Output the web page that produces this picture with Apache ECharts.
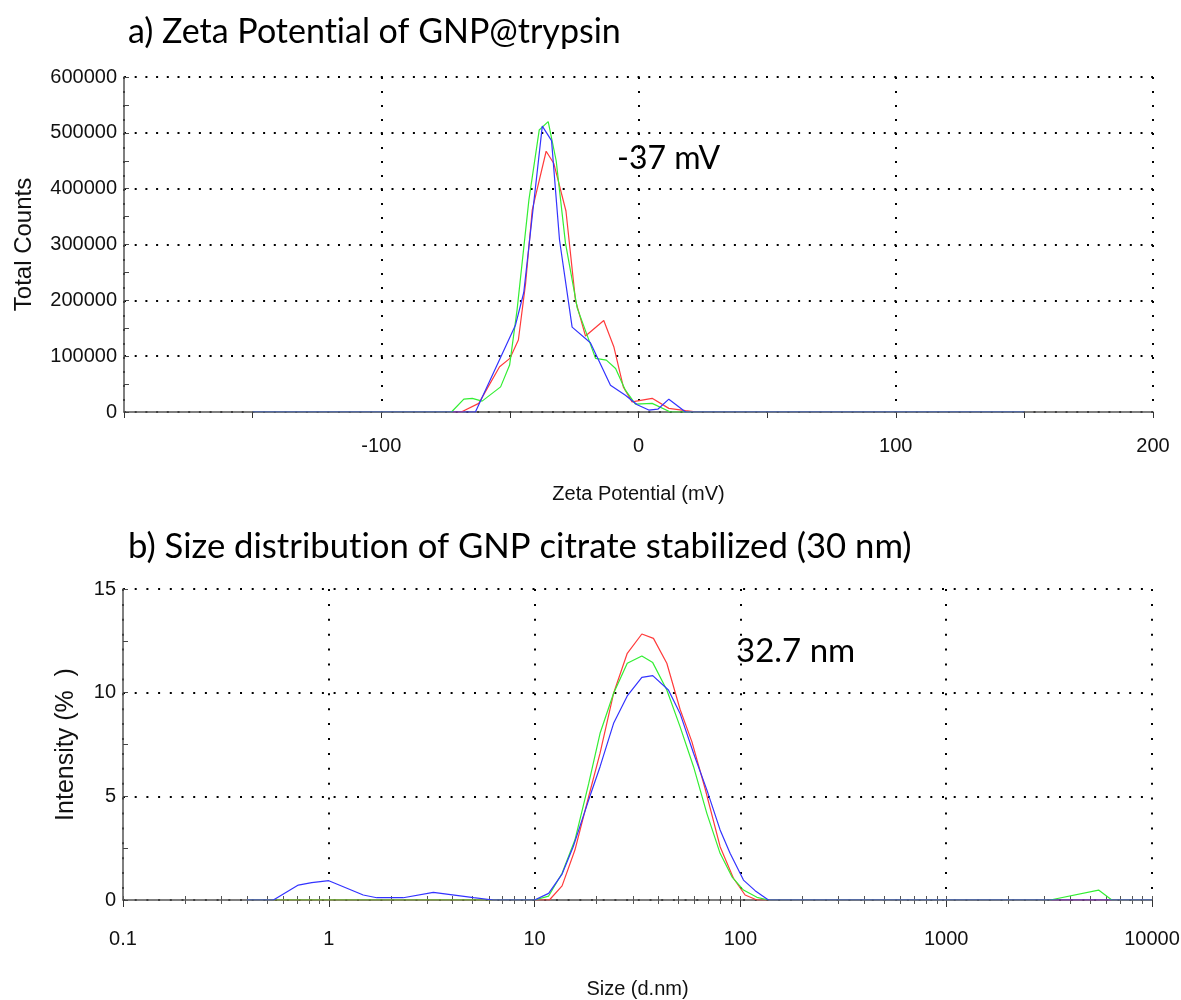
<!DOCTYPE html>
<html>
<head>
<meta charset="utf-8">
<title>Zeta potential and size distribution</title>
<script src="https://cdn.jsdelivr.net/npm/echarts@6/dist/echarts.min.js"></script>
<style>
  html, body { margin: 0; padding: 0; background: #fff; }
  #chart { width: 1181px; height: 1000px; }
</style>
</head>
<body>
<div id="chart"></div>
<script>
// ---- a) zeta potential runs: [mV, total counts] ----
const zetaRed = [[-150,0],[-68.9,0],[-62.1,15500],[-54,81000],[-50,96000],[-46.7,129000],[-43.9,230000],[-41.3,362000],[-35.9,467000],[-32.9,445000],[-28.2,360000],[-24.5,200000],[-20.6,136000],[-13.5,164000],[-9.6,117000],[-5.9,45000],[-2.5,18000],[5.3,24500],[11.8,6500],[18.3,2500],[22.8,0],[150,0]];
const zetaGreen = [[-150,0],[-72.7,0],[-67.9,23000],[-64.6,24500],[-60.8,19500],[-53.6,45000],[-50.1,84000],[-47.2,183000],[-42.6,380000],[-38.6,505000],[-35.1,520000],[-32.0,450000],[-28.4,303000],[-23.8,186000],[-16.7,96000],[-12.5,93000],[-8.9,78000],[-5.1,39000],[-1.2,14000],[5.3,15500],[12.4,0],[150,0]];
const zetaBlue = [[-150,0],[-63.4,0],[-47.8,156000],[-44.6,214000],[-37.4,512000],[-33.8,486000],[-30.7,308000],[-25.8,152000],[-18.7,124000],[-10.9,48000],[-5.1,30000],[-0.5,13000],[4.0,3500],[7.5,5000],[11.8,23000],[18.3,0],[150,0]];

// ---- b) size distribution runs: [size d.nm, intensity %] ----
const sizeRed = [[0.4,0],[11.8,0],[13.6,0.68],[15.7,2.41],[18.3,4.98],[20.8,7.08],[24.2,9.97],[28.2,11.9],[33.2,12.83],[37.8,12.62],[43.9,11.42],[50.9,9.2],[58.1,7.64],[67.3,5.39],[79.7,2.57],[92.5,1.05],[105.4,0.24],[120.3,0],[10000,0]];
const sizeGreen = [[0.4,0],[10,0],[11.7,0.19],[13.6,1.29],[15.7,2.89],[18.3,5.6],[20.8,8.04],[24.2,9.97],[28.2,11.42],[33.2,11.77],[37.5,11.45],[43.9,10.13],[50.9,8.36],[59.2,6.43],[68.7,4.18],[79.7,2.25],[91,1.12],[103.5,0.48],[120.3,0.13],[136.8,0],[3200,0],[5500,0.48],[6380,0],[10000,0]];
const sizeBlue = [[0.4,0],[0.538,0],[0.711,0.72],[0.826,0.84],[1.0,0.93],[1.47,0.24],[1.71,0.11],[2.3,0.11],[3.22,0.37],[5.05,0.11],[6.3,0],[10,0],[11.7,0.32],[13.6,1.25],[15.4,2.57],[18.3,4.82],[20.8,6.43],[24.2,8.52],[28.2,9.84],[33.2,10.74],[37.5,10.82],[44.7,10.13],[50.9,9.0],[59.2,7.08],[68.7,5.31],[79.7,3.38],[89.1,2.25],[103.5,0.96],[117.9,0.45],[136.8,0],[10000,0]];

// ---- text: titles are split between "t" and "i" into two rich-text runs so the font does not join them ----
const titleA = ['a) Zeta Potent', 'ial of GNP@trypsin'];
const titleB = ['b) Size distribut', 'ion of GNP citrate stabilized (30 nm)'];
const noteA = '-37 mV';
const noteB = '32.7 nm';

// log-axis minor tick positions (2..9 in every decade), in log10 space
const decades = [0.1, 1, 10, 100, 1000];
const minorLogTicks = [];
decades.forEach(d => { for (let k = 2; k <= 9; k++) minorLogTicks.push(Math.log10(k * d)); });
const majorLogTicks = [-1, 0, 1, 2, 3, 4];

const TICK_FONT = '"Liberation Sans", Arial, sans-serif';
const NAME_FONT = '"Liberation Sans", Arial, sans-serif';
const TITLE_FONT = 'Lato, "Open Sans", sans-serif';
const AXIS_GRAY = '#555';

const colors = { red: '#ff3b3b', green: '#33ee33', blue: '#3333ff' };

function dotted(period) {
  return { show: true, lineStyle: { color: '#000', width: 2, type: [2, period - 2] } };
}
function plain(v) { return String(+(+v).toPrecision(10)); }
function line(data, color, xi, yi) {
  return {
    type: 'line', data, xAxisIndex: xi, yAxisIndex: yi,
    showSymbol: false, symbol: 'none', silent: true,
    lineStyle: { color, width: 1.2 }, z: 3
  };
}
function titleText(parts, size, left, top) {
  const font = size + 'px ' + TITLE_FONT;
  return {
    type: 'text', left, top,
    style: {
      text: '{p|' + parts[0] + '}{p|' + parts[1] + '}',
      font, fill: '#000',
      rich: { p: { font, fill: '#000' } }
    }
  };
}

const tickLabel = { color: '#111', fontFamily: TICK_FONT, fontSize: 20 };
const axisName = { color: '#111', fontFamily: NAME_FONT, fontSize: 20 };

const option = {
  animation: false,
  backgroundColor: '#fff',
  grid: [
    { left: 124, right: 28, top: 77, height: 335, outerBoundsMode: 'none', containLabel: false },
    { left: 123, right: 29, top: 589, height: 311, outerBoundsMode: 'none', containLabel: false }
  ],
  xAxis: [
    {
      type: 'value', gridIndex: 0, min: -200, max: 200, interval: 100,
      name: 'Zeta Potential (mV)', nameLocation: 'middle', nameGap: 72,
      nameTextStyle: axisName,
      axisLine: { onZero: false, lineStyle: { color: AXIS_GRAY, width: 1.5 } },
      axisTick: { length: 6, lineStyle: { color: '#333' } },
      minorTick: { show: true, splitNumber: 2, length: 6, lineStyle: { color: '#333' } },
      splitLine: dotted(14),
      axisLabel: Object.assign({ margin: 24, formatter: v => (v === -200 ? '' : plain(v)) }, tickLabel)
    },
    {
      type: 'log', logBase: 10, gridIndex: 1, min: 0.1, max: 10000,
      name: 'Size (d.nm)', nameLocation: 'middle', nameGap: 79,
      nameTextStyle: axisName,
      axisLine: { onZero: false, lineStyle: { color: AXIS_GRAY, width: 1.5 } },
      axisTick: { length: 7, lineStyle: { color: '#333' } },
      splitLine: dotted(14.9),
      axisLabel: Object.assign({ margin: 29, formatter: plain }, tickLabel)
    },
    {
      // minor ticks of the log size axis, placed in log10 space
      type: 'value', gridIndex: 1, min: -1, max: 4, position: 'bottom',
      axisLine: { show: false }, axisLabel: { show: false }, splitLine: { show: false },
      axisTick: { show: true, length: 4, customValues: minorLogTicks, lineStyle: { color: '#555' } }
    },
    {
      // short inner part of the same ticks so they cross the axis line
      type: 'value', gridIndex: 1, min: -1, max: 4, position: 'bottom',
      axisLine: { show: false }, axisLabel: { show: false }, splitLine: { show: false },
      axisTick: { show: true, inside: true, length: 4, customValues: minorLogTicks.concat(majorLogTicks), lineStyle: { color: '#555' } }
    }
  ],
  yAxis: [
    {
      type: 'value', gridIndex: 0, min: 0, max: 600000, interval: 100000,
      name: 'Total Counts', nameLocation: 'middle', nameGap: 88, nameRotate: 90,
      nameTextStyle: Object.assign({}, axisName, { fontSize: 24 }),
      axisLine: { show: true, onZero: false, lineStyle: { color: AXIS_GRAY, width: 1.5 } },
      axisTick: { show: true, inside: true, length: 5, lineStyle: { color: '#444' } },
      minorTick: { show: true, splitNumber: 2, length: 5, lineStyle: { color: '#444' } },
      splitLine: dotted(10.7),
      axisLabel: Object.assign({ margin: 7, formatter: plain }, tickLabel)
    },
    {
      type: 'value', gridIndex: 1, min: 0, max: 15, interval: 5,
      name: 'Intensity (%  )', nameLocation: 'middle', nameGap: 44, nameRotate: 90,
      nameTextStyle: Object.assign({}, axisName, { fontSize: 25 }),
      axisLine: { show: true, onZero: false, lineStyle: { color: AXIS_GRAY, width: 1.5 } },
      axisTick: { show: true, inside: true, length: 5, lineStyle: { color: '#444' } },
      minorTick: { show: true, splitNumber: 2, length: 5, lineStyle: { color: '#444' } },
      splitLine: dotted(11.7),
      axisLabel: Object.assign({ margin: 7, formatter: plain }, tickLabel)
    }
  ],
  graphic: [
    titleText(titleA, 34, 128, 15),
    titleText(titleB, 34.7, 128, 529),
    { type: 'text', left: 617, top: 143, z: 10, style: { text: noteA, font: '32px ' + TITLE_FONT, fill: '#000' } },
    { type: 'text', left: 736, top: 635, z: 10, style: { text: noteB, font: '33px ' + TITLE_FONT, fill: '#000' } }
  ],
  series: [
    line(zetaRed, colors.red, 0, 0),
    line(zetaGreen, colors.green, 0, 0),
    line(zetaBlue, colors.blue, 0, 0),
    line(sizeRed, colors.red, 1, 1),
    line(sizeGreen, colors.green, 1, 1),
    line(sizeBlue, colors.blue, 1, 1)
  ]
};

const chart = echarts.init(document.getElementById('chart'), null, { renderer: 'canvas' });
chart.setOption(option);
</script>
</body>
</html>
